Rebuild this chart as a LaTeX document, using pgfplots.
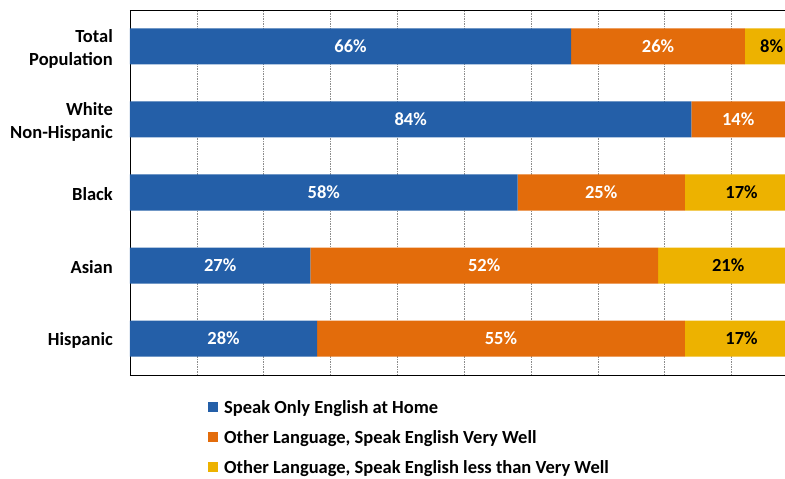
\documentclass[border=0pt]{standalone}
\usepackage{fontspec}
\setmainfont{Carlito}
\usepackage{pgfplots}
\pgfplotsset{compat=1.18}
\definecolor{cblue}{RGB}{36,95,168}
\definecolor{corange}{RGB}{227,108,11}
\definecolor{cyellow}{RGB}{237,178,0}
\newcommand{\lblfont}{\bfseries\fontsize{18.5}{23}\selectfont}
\begin{document}
\begin{tikzpicture}
\path[use as bounding box] (-130pt,-104pt) rectangle (655pt,375pt);
% bars
\begin{axis}[
    at={(0,0)}, anchor=south west,
    scale only axis,
    width=655pt, height=365pt,
    xbar stacked,
    bar width=36pt,
    xmin=0, xmax=98,
    ymin=-0.5, ymax=4.5,
    xtick={10,20,...,90},
    xticklabels={},
    xmajorgrids,
    grid style={gray!90, line width=0.6pt, dash pattern=on 1.5pt off 1pt},
    major tick length=0pt,
    ytick={0,1,2,3,4},
    yticklabels={Hispanic, Asian, Black, {White\\Non-Hispanic}, {Total\\Population}},
    yticklabel style={align=right, font=\lblfont, inner sep=0pt, xshift=-17pt, yshift=-2pt},
    axis y line*=left,
    axis line style={black, line width=0.8pt},
    legend style={draw=none, fill=none, at={(75pt,-22pt)}, anchor=north west,
        font=\lblfont, legend cell align=left, row sep=13.5pt,
        nodes={inner sep=1pt}},
    legend image code/.code={\fill[#1, draw=none] (0pt,-5pt) rectangle (10pt,5pt); \path (15pt,0pt);},
    legend cell align=left,
]
\addplot[fill=cblue, draw=none] coordinates {(28,0) (27,1) (58,2) (84,3) (66,4)};
\addlegendentry{Speak Only English at Home}
\addplot[fill=corange, draw=none] coordinates {(55,0) (52,1) (25,2) (14,3) (26,4)};
\addlegendentry{Other Language, Speak English Very Well}
\addplot[fill=cyellow, draw=none] coordinates {(17,0) (21,1) (17,2) (2,3) (8,4)};
\addlegendentry{Other Language, Speak English less than Very Well}
\end{axis}
% value labels at segment centres
\begin{axis}[
    at={(0,0)}, anchor=south west,
    scale only axis,
    width=655pt, height=365pt,
    xmin=0, xmax=98,
    ymin=-0.5, ymax=4.5,
    hide axis, clip=false,
    nodes near coords={\pgfplotspointmeta},
    point meta=explicit symbolic,
    every node near coord/.append style={anchor=center, font=\lblfont},
]
\addplot[draw=none, mark=none, nodes near coords style={text=white}] coordinates {
    (14,0) [28\%] (13.5,1) [27\%] (29,2) [58\%] (42,3) [84\%] (33,4) [66\%]};
\addplot[draw=none, mark=none, nodes near coords style={text=white}] coordinates {
    (55.5,0) [55\%] (53,1) [52\%] (70.5,2) [25\%] (91,3) [14\%] (79,4) [26\%]};
\addplot[draw=none, mark=none, nodes near coords style={text=black}] coordinates {
    (91.5,0) [17\%] (89.5,1) [21\%] (91.5,2) [17\%] (96,4) [8\%]};
\end{axis}
\end{tikzpicture}
\end{document}
